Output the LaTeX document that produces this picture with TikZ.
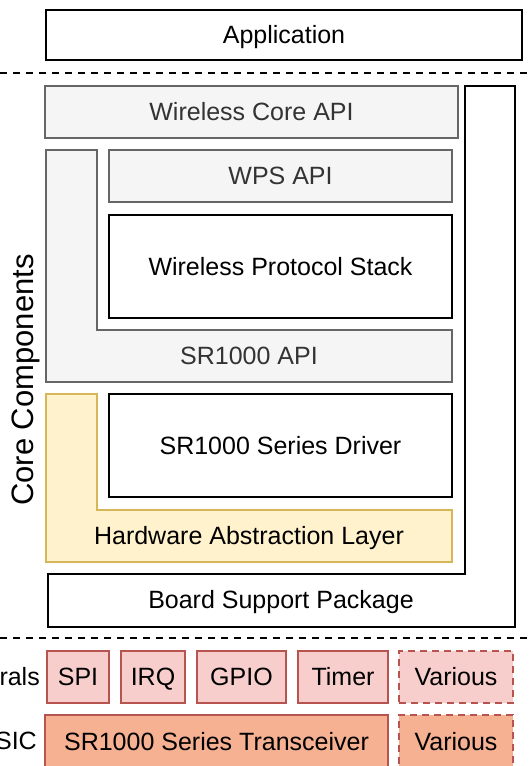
\documentclass[tikz,border=0pt]{standalone}
\usepackage{fontspec}
\setmainfont{Liberation Sans}
\usepackage{tikz}

\definecolor{apigray}{HTML}{F5F5F5}
\definecolor{apiline}{HTML}{666666}
\definecolor{apitext}{HTML}{333333}
\definecolor{halfill}{HTML}{FFF2CC}
\definecolor{halline}{HTML}{D6B656}
\definecolor{perfill}{HTML}{F8CECC}
\definecolor{perline}{HTML}{B85450}
\definecolor{asicfill}{HTML}{F6B092}

\tikzset{
	txt/.style={font=\fontsize{25}{30}\selectfont, inner sep=0pt, text height=18pt, text depth=1pt},
	layer/.style={txt, draw=black, line width=2pt, fill=white},
	apilayer/.style={layer, draw=apiline, fill=apigray, text=apitext},
	perlayer/.style={layer, draw=perline, fill=perfill, minimum height=52pt},
	asiclayer/.style={layer, draw=perline, fill=asicfill, minimum height=54pt},
	sep/.style={line width=2pt, dash pattern=on 7pt off 6pt}
}

\begin{document}
\begin{tikzpicture}[x=1pt,y=-1pt]
	\useasboundingbox (0,0) rectangle (530,766);
	\clip (0,0) rectangle (530,766);

	% application
	\node[layer, minimum width=476pt, minimum height=50pt] (app) at (284,35) {Application};
	\coordinate (sepa) at (0,73);
	\coordinate (sepb) at (530,73);
	\draw[sep] (sepa) -- (sepb);

	% core components
	\draw[line width=2pt, fill=white]
		(465,86) -- (515,86) -- (515,627) -- (48,627) -- (48,574) -- (465,574) -- cycle;
	\node[txt] (bsp) at (281,600) {Board Support Package};

	\node[apilayer, minimum width=413pt, minimum height=52pt] (wcore) at (251.5,112) {Wireless Core API};

	\draw[line width=2pt, draw=apiline, fill=apigray]
		(46,150) -- (97,150) -- (97,330) -- (452,330) -- (452,382) -- (46,382) -- cycle;
	\node[txt, text=apitext] (srapi) at (249,356) {SR1000 API};
	\node[apilayer, minimum width=343pt, minimum height=52pt] (wps) at (280.5,176) {WPS API};
	\node[layer, minimum width=343pt, minimum height=103pt] (stack) at (280.5,266.5) {Wireless Protocol Stack};

	\draw[line width=2pt, draw=halline, fill=halfill]
		(46,394) -- (97,394) -- (97,510) -- (452,510) -- (452,562) -- (46,562) -- cycle;
	\node[txt] (hal) at (249,536) {Hardware Abstraction Layer};
	\node[layer, minimum width=343pt, minimum height=103pt] (driver) at (280.5,445.5) {SR1000 Series Driver};

	\node[txt, font=\fontsize{31}{36}\selectfont, text height=22pt, text depth=0pt, rotate=90] (core) at (22,380) {Core Components};

	\coordinate (sepc) at (0,638);
	\coordinate (sepd) at (530,638);
	\draw[sep] (sepc) -- (sepd);

	% peripherals
	\node[txt, anchor=east] (perlbl) at (40,677) {rals};
	\node[perlayer, minimum width=62pt] (spi) at (78,677) {SPI};
	\node[perlayer, minimum width=64pt] (irq) at (153,677) {IRQ};
	\node[perlayer, minimum width=89pt] (gpio) at (241.5,677) {GPIO};
	\node[perlayer, minimum width=90pt] (timer) at (343,677) {Timer};
	\node[perlayer, minimum width=114pt, dash pattern=on 7pt off 5pt] (pervar) at (456,677) {Various};

	% asic
	\node[txt, anchor=east] (asiclbl) at (37,741) {SIC};
	\node[asiclayer, minimum width=343pt] (trx) at (216.5,742) {SR1000 Series Transceiver};
	\node[asiclayer, minimum width=114pt, dash pattern=on 7pt off 5pt] (asicvar) at (456,742) {Various};
\end{tikzpicture}
\end{document}
